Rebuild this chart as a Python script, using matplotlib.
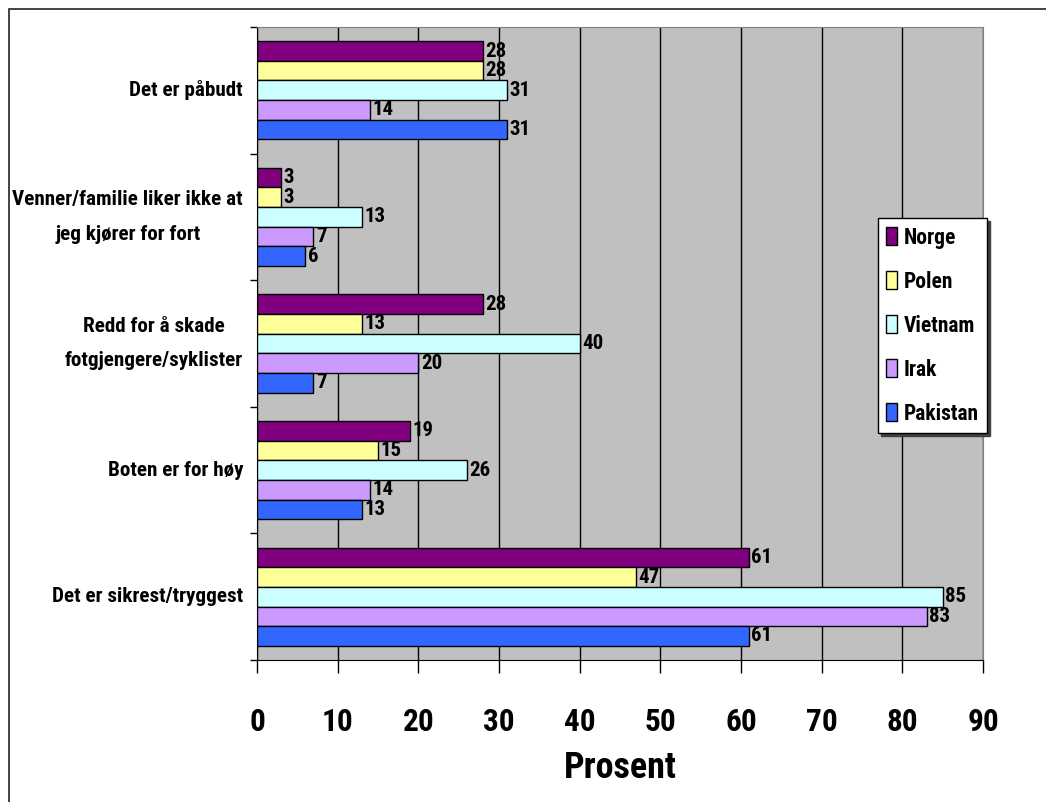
import os
import numpy as np
import matplotlib
matplotlib.use("Agg")
import matplotlib.pyplot as plt
from matplotlib import font_manager
from matplotlib.font_manager import FontProperties
from matplotlib.patches import Rectangle
from matplotlib.ticker import FixedLocator


def smal_font(navn_liste):
    # finn en smal/kondensert fet skrift blant de installerte
    filer = {os.path.basename(f.fname): f.fname for f in font_manager.fontManager.ttflist}
    for navn in navn_liste:
        if navn in filer:
            return FontProperties(fname=filer[navn])
    return FontProperties(family="Liberation Sans", weight="bold")


vanlig = smal_font(["LiberationSansNarrow-Bold.ttf", "ArialNarrowBold.ttf",
                    "RobotoCondensed-Bold.ttf", "NotoSans-CondensedBold.ttf",
                    "OpenSans-CondBold.ttf", "OpenSans_Condensed-Bold.ttf",
                    "DejaVuSansCondensed-Bold.ttf"])
hoy = smal_font(["NotoSans-ExtraCondensedBold.ttf", "RobotoCondensed-Bold.ttf",
                 "LiberationSansNarrow-Bold.ttf", "NotoSans-CondensedBold.ttf",
                 "DejaVuSansCondensed-Bold.ttf"])

# grunner, nederst til øverst
grunner = ["Det er sikrest/tryggest",
           "Boten er for høy",
           "Redd for å skade\nfotgjengere/syklister",
           "Venner/familie liker ikke at\njeg kjører for fort",
           "Det er påbudt"]

land = ["Norge", "Polen", "Vietnam", "Irak", "Pakistan"]
farger = ["#800080", "#FFFF99", "#CCFFFF", "#CC99FF", "#3366FF"]

norge = [61, 19, 28, 3, 28]
polen = [47, 15, 13, 3, 28]
vietnam = [85, 26, 40, 13, 31]
irak = [83, 14, 20, 7, 14]
pakistan = [61, 13, 7, 6, 31]
verdier = [norge, polen, vietnam, irak, pakistan]


def fp(prop, size):
    p = prop.copy()
    p.set_size(size)
    return p


fig = plt.figure(figsize=(10.46, 8.02), dpi=100)
ax = fig.add_axes([257/1046, 1 - 660/802, (983 - 257)/1046, (660 - 27)/802])
ax.set_facecolor("#C0C0C0")

y = np.arange(len(grunner))
h = 0.155
for j, (navn, farge, vals) in enumerate(zip(land, farger, verdier)):
    pos = y + (2 - j) * h
    ax.barh(pos, vals, height=h, color=farge, edgecolor="black", linewidth=1.0,
            label=navn, zorder=3)
    for p, v in zip(pos, vals):
        ax.text(v + 0.3, p, str(v), ha="left", va="center",
                fontproperties=fp(hoy, 15), zorder=4)

ax.set_xlim(0, 90)
ax.set_ylim(-0.5, len(grunner) - 0.5)
ax.set_xticks(np.arange(0, 91, 10))
ax.grid(axis="x", color="black", linewidth=1.0, zorder=1)
ax.set_axisbelow(True)

# y-streker mellom gruppene, etiketter midt i hver gruppe
ax.yaxis.set_major_locator(FixedLocator(np.arange(-0.5, len(grunner), 1.0)))
ax.yaxis.set_minor_locator(FixedLocator(y))
ax.set_yticklabels([], minor=False)
ax.set_yticklabels(grunner, minor=True, fontproperties=fp(vanlig, 15.2),
                   linespacing=2.05, multialignment="center")
for t in ax.get_yticklabels(minor=True):
    t.set_verticalalignment("center")
ax.tick_params(axis="y", which="major", length=5, width=1, direction="out")
ax.tick_params(axis="y", which="minor", length=0, pad=10)
ax.tick_params(axis="x", which="major", length=9, width=1, direction="out", pad=25)
ax.set_xticklabels([str(v) for v in range(0, 91, 10)], fontproperties=fp(hoy, 22.5))

ax.set_xlabel("Prosent", fontproperties=fp(hoy, 26), labelpad=9)

ax.spines["left"].set_color("black")
ax.spines["bottom"].set_color("black")
ax.spines["top"].set_color("#808080")
ax.spines["right"].set_color("#808080")

leg = ax.legend(loc="upper left", bbox_to_anchor=(0.855, 0.698), borderaxespad=0,
                prop=fp(vanlig, 15.5), frameon=True, fancybox=False, edgecolor="black",
                framealpha=1, handlelength=0.5, handleheight=0.9,
                handletextpad=0.3, labelspacing=1.02, borderpad=0.4,
                shadow={"color": "#404040", "alpha": 1})
leg.get_frame().set_linewidth(1.0)

# ramme rundt hele diagrammet
fig.add_artist(Rectangle((9/1046, -0.05), 1.2, 1.05 - 8.5/802,
                         transform=fig.transFigure, fill=False,
                         edgecolor="#222222", linewidth=1.2))

fig.savefig("out.png", dpi=100)
